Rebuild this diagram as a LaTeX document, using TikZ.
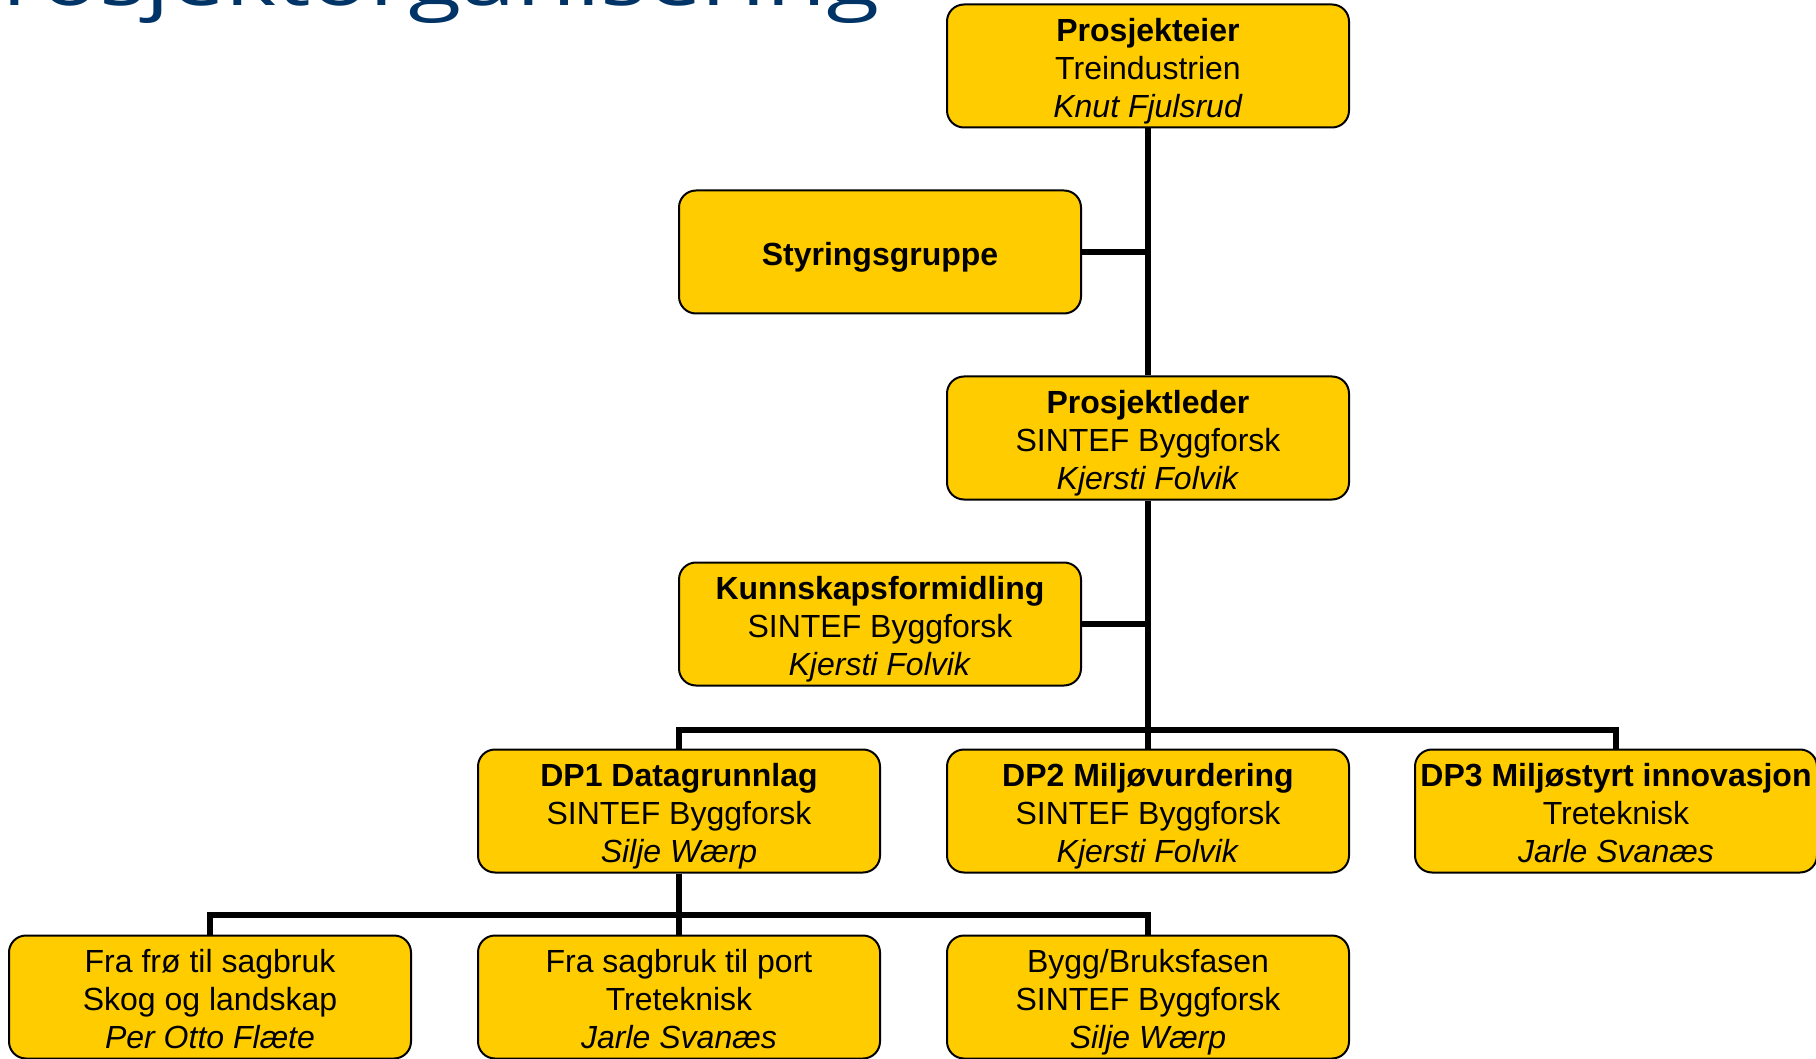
\documentclass[tikz,border=0pt]{standalone}
\usepackage{fontspec}
\setmainfont{Liberation Sans}
\newfontfamily\titlefont{Open Sans}
\usepackage{tikz}

\definecolor{gul}{RGB}{255,204,0}
\definecolor{tittelblaa}{RGB}{0,51,102}

\newcommand{\topp}{\rule{0pt}{16.5pt}}

\tikzset{
    boks/.style={draw=black, line width=1pt, fill=gul, rounded corners=8.5pt,
        minimum width=201pt, minimum height=61.5pt, inner sep=0pt, align=center,
        font=\fontsize{16}{19}\selectfont, text depth=3.4pt},
    linje/.style={draw=black, line width=3pt}
}

\begin{document}
\begin{tikzpicture}[x=0.5pt, y=-0.5pt]
    \clip (0,0) rectangle (1816,1059);

    % Tittel.
    \node[anchor=base east, inner sep=0pt, text=tittelblaa, font=\titlefont\fontsize{37.5}{42}\selectfont] (tittel) at (880,6) {\scalebox{1.3}[1]{Prosjektorganisering}};

    % Bokser.
    \node[boks] (eier) at (1148,66) {\topp\textbf{Prosjekteier}\\Treindustrien\\\textit{Knut Fjulsrud}};
    \node[boks] (styr) at (880,252) {\topp\textbf{Styringsgruppe}};
    \node[boks] (leder) at (1148,438) {\topp\textbf{Prosjektleder}\\SINTEF Byggforsk\\\textit{Kjersti Folvik}};
    \node[boks] (kunn) at (880,624) {\topp\textbf{Kunnskapsformidling}\\SINTEF Byggforsk\\\textit{Kjersti Folvik}};

    \node[boks] (dp1) at (679,811) {\topp\textbf{DP1 Datagrunnlag}\\SINTEF Byggforsk\\\textit{Silje Wærp}};
    \node[boks] (dp2) at (1148,811) {\topp\textbf{DP2 Miljøvurdering}\\SINTEF Byggforsk\\\textit{Kjersti Folvik}};
    \node[boks] (dp3) at (1616,811) {\topp\textbf{DP3 Miljøstyrt innovasjon}\\Treteknisk\\\textit{Jarle Svanæs}};

    \node[boks] (del1) at (210,997) {\topp Fra frø til sagbruk\\Skog og landskap\\\textit{Per Otto Flæte}};
    \node[boks] (del2) at (679,997) {\topp Fra sagbruk til port\\Treteknisk\\\textit{Jarle Svanæs}};
    \node[boks] (del3) at (1148,997) {\topp Bygg/Bruksfasen\\SINTEF Byggforsk\\\textit{Silje Wærp}};

    % Linjer.
    \coordinate (buss1) at (1148,729.5);
    \coordinate (buss2) at (679,915);
    \draw[linje] (eier.south) -- (leder.north);
    \draw[linje] (styr.east) -- (styr.east -| eier.south);
    \draw[linje] (leder.south) -- (dp2.north);
    \draw[linje] (kunn.east) -- (kunn.east -| leder.south);
    \draw[linje] (dp1.north) |- (buss1) -| (dp3.north);
    \draw[linje] (dp1.south) -- (del2.north);
    \draw[linje] (del1.north) |- (buss2) -| (del3.north);
\end{tikzpicture}
\end{document}
